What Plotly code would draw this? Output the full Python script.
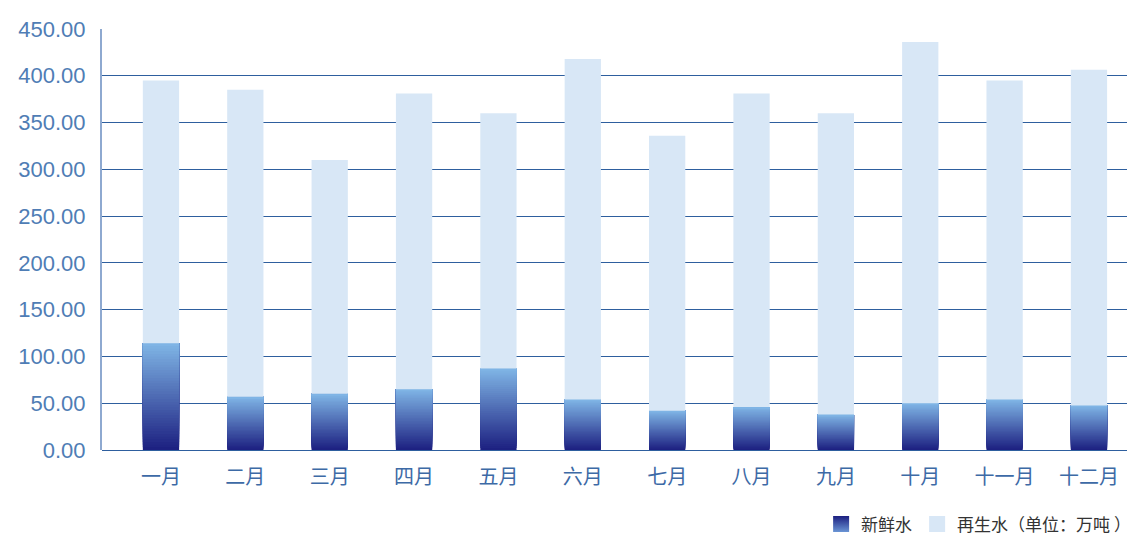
import plotly.graph_objects as go

months = ["一月", "二月", "三月", "四月", "五月", "六月", "七月", "八月", "九月", "十月", "十一月", "十二月"]
fresh = [114, 57, 60, 65, 87, 54, 42, 46, 38, 50, 54, 47.5]
recycled = [281, 328, 250, 316, 273, 364, 294, 335, 322, 386, 341, 359]
y_ticks = [0, 50, 100, 150, 200, 250, 300, 350, 400, 450]

FONT = "Liberation Sans, Arial, Noto Sans CJK SC, sans-serif"
CJK = "Noto Sans CJK SC, Liberation Sans, sans-serif"

bottom_rgb = (28, 31, 128)
top_rgb = (128, 182, 230)
N = 40
x_idx = list(range(len(months)))
bw = 0.43

fig = go.Figure()
# gradient: each layer spans from its base to the top of the fresh-water bar,
# later (lighter) layers cover earlier ones, so no seams appear
for k in range(N):
    t = (k + 0.5) / N
    c = tuple(round(bottom_rgb[j] + (top_rgb[j] - bottom_rgb[j]) * t) for j in range(3))
    fig.add_trace(go.Bar(
        x=x_idx, y=[f * (N - k) / N for f in fresh], base=[f * k / N for f in fresh],
        width=bw, marker=dict(color="rgb(%d,%d,%d)" % c, line=dict(width=0)),
        showlegend=False, hoverinfo="skip",
    ))
fig.add_trace(go.Bar(
    x=x_idx, y=recycled, base=fresh, width=bw,
    marker=dict(color="#d8e7f6", line=dict(width=0)),
    showlegend=False, name="再生水",
))
# legend entries (square markers so the swatches are larger)
fig.add_trace(go.Scatter(
    x=[None], y=[None], mode="markers", name="新鲜水",
    marker=dict(symbol="square", size=19, color="#1c1f80",
                gradient=dict(type="vertical", color="#6a95d5"), line=dict(width=0)),
))
fig.add_trace(go.Scatter(
    x=[None], y=[None], mode="markers", name="再生水（单位：万吨 ）",
    marker=dict(symbol="square", size=19, color="#d8e7f6", line=dict(width=0)),
))

# page body has an 8px default margin, so the figure is sized/offset to fit
fig.update_layout(
    width=1127, height=528,
    margin=dict(l=94, r=3, t=21, b=86, autoexpand=False),
    barmode="overlay",
    plot_bgcolor="white", paper_bgcolor="white",
    font=dict(family=CJK),
    legend=dict(orientation="h", x=1.004, xanchor="right", y=-0.177, yanchor="middle",
                font=dict(family=CJK, size=17, color="#333333"), traceorder="normal",
                itemsizing="trace", itemclick=False),
    xaxis=dict(
        range=[-0.699, 11.51], tickmode="array", tickvals=x_idx, ticktext=months,
        showgrid=False, zeroline=False, showline=False, ticks="",
        ticklabelstandoff=13, automargin=False,
        tickfont=dict(family=CJK, size=20, color="#3d6aa6"),
    ),
    yaxis=dict(
        range=[0, 450], tickmode="array", tickvals=y_ticks,
        ticktext=["%.2f" % v for v in y_ticks],
        showgrid=True, gridcolor="#2e5f9e", gridwidth=1,
        zeroline=True, zerolinecolor="#2e5f9e", zerolinewidth=1,
        showline=True, linecolor="#8ea9d0", linewidth=2,
        ticks="", ticklabelstandoff=10, automargin=False,
        tickfont=dict(family=FONT, size=22, color="#4f7db5"),
    ),
)
fig.write_html("out.html")
